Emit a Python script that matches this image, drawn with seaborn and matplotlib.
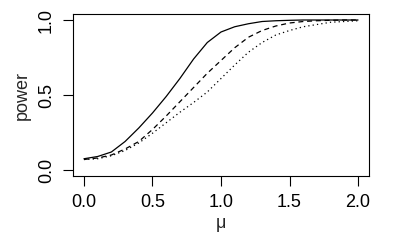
import pandas as pd
import matplotlib
matplotlib.use('Agg')
import matplotlib.pyplot as plt
import seaborn as sns

# values
mu = [0.0, 0.1, 0.2, 0.3, 0.4, 0.5, 0.6, 0.7, 0.8, 0.9, 1.0,
      1.1, 1.2, 1.3, 1.4, 1.5, 1.6, 1.7, 1.8, 1.9, 2.0]
power_solid = [0.075, 0.09, 0.12, 0.19, 0.28, 0.38, 0.49, 0.61, 0.74, 0.85, 0.92,
               0.955, 0.975, 0.99, 0.995, 0.998, 1.0, 1.0, 1.0, 1.0, 1.0]
power_dashed = [0.07, 0.08, 0.10, 0.14, 0.19, 0.27, 0.36, 0.455, 0.55, 0.645, 0.73,
                0.815, 0.885, 0.93, 0.96, 0.98, 0.99, 0.995, 0.998, 1.0, 1.0]
power_dotted = [0.07, 0.075, 0.095, 0.13, 0.18, 0.245, 0.315, 0.385, 0.45, 0.52, 0.61,
                0.70, 0.785, 0.85, 0.90, 0.93, 0.955, 0.97, 0.985, 0.99, 0.995]

df = pd.DataFrame({
    'mu': mu * 3,
    'power': power_solid + power_dashed + power_dotted,
    'test': ['a'] * len(mu) + ['b'] * len(mu) + ['c'] * len(mu),
})

sns.set_style("white")
plt.rcParams['font.family'] = ['Liberation Sans', 'DejaVu Sans']

fig = plt.figure(figsize=(4, 2.5), dpi=100)
ax = fig.add_axes([0.1825, 0.296, 0.74, 0.648])

sns.lineplot(data=df, x='mu', y='power', style='test', color='black',
             dashes=['', (4, 3), (1, 2.5)], linewidth=0.9, legend=False, ax=ax)

ax.set_xlim(-0.08, 2.08)
ax.set_ylim(-0.04, 1.04)
ax.set_xticks([0.0, 0.5, 1.0, 1.5, 2.0])
ax.set_xticklabels(['0.0', '0.5', '1.0', '1.5', '2.0'])
ax.set_yticks([0.0, 0.5, 1.0])
ax.set_yticklabels(['0.0', '0.5', '1.0'], rotation=90, va='center')
ax.tick_params(axis='both', direction='out', length=7, width=0.8, color='black',
               labelsize=13, labelcolor='black', pad=6, left=True, bottom=True)
for s in ax.spines.values():
    s.set_color('black')
    s.set_linewidth(0.8)

ax.set_xlabel('μ', fontsize=13, labelpad=3)
ax.set_ylabel('power', fontsize=13, labelpad=5)

plt.savefig('out.png', dpi=100)
